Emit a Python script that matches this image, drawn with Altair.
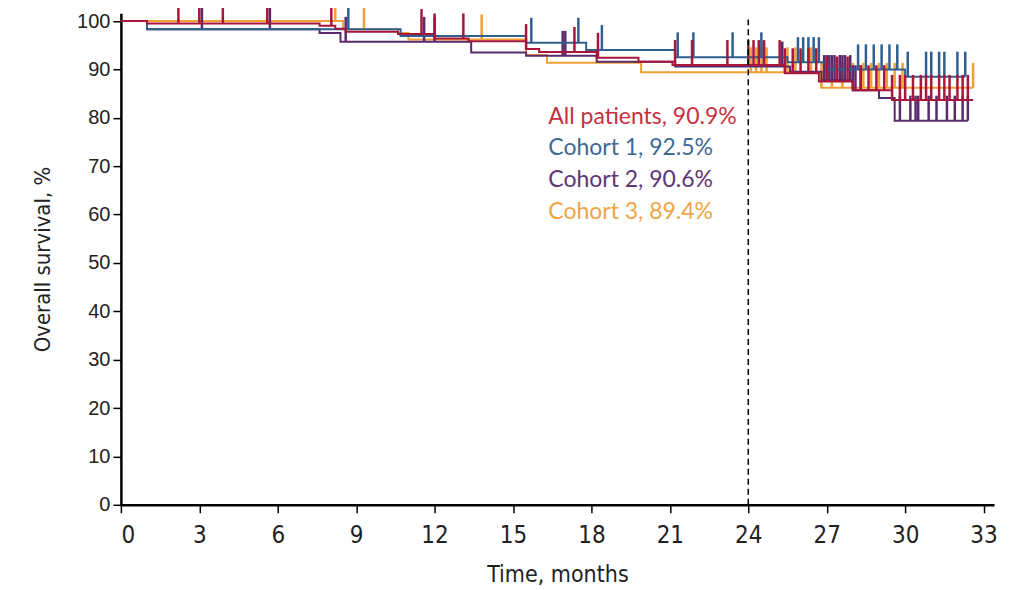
import altair as alt
import pandas as pd

series_names = ["All patients", "Cohort 1", "Cohort 2", "Cohort 3"]
line_colors = ["#a8163c", "#2f5f8f", "#5a2a6c", "#f0a035"]
label_colors = ["#c8303e", "#3d6995", "#5e3577", "#f0a445"]
label_texts = ["All patients, 90.9%", "Cohort 1, 92.5%", "Cohort 2, 90.6%", "Cohort 3, 89.4%"]

# Kaplan-Meier step points (time in months, survival %)
all_t = [0, 1.0, 7.6, 8.2, 8.6, 10.6, 12.0, 13.3, 15.5, 16.0, 18.2, 19.8, 21.1, 25.4, 26.7, 28.0, 29.5]
all_s = [100, 99.5, 99.0, 98.4, 97.8, 97.3, 96.4, 95.8, 94.2, 93.6, 92.4, 91.6, 90.9, 89.2, 87.5, 85.7, 83.7]
all_end = 32.6
all_cens = [2.2, 3.0, 3.9, 5.6, 8.05, 11.5, 12.0, 13.1, 15.5, 17.35, 18.25, 21.2, 21.85, 23.2,
            24.0, 24.2, 24.4, 24.6, 25.2, 25.4, 25.7, 26.0, 26.3, 26.6, 27.0, 27.4, 27.8, 28.3,
            28.6, 28.9, 29.2, 29.5, 29.8, 30.0, 30.3, 30.6, 30.8, 31.0, 31.3, 31.5, 31.7, 32.0,
            32.2, 32.4]

c1_t = [0, 1.0, 10.7, 15.5, 17.8, 21.2, 25.5, 27.0, 30.0]
c1_s = [100, 98.3, 96.9, 95.5, 94.0, 92.5, 91.5, 90.0, 88.5]
c1_end = 32.3
c1_cens = [8.7, 15.7, 17.5, 18.4, 21.3, 21.9, 23.4, 24.5, 25.9, 26.1, 26.3, 26.5, 26.7, 28.2,
           28.5, 28.8, 29.1, 29.4, 29.7, 30.1, 30.8, 31.0, 31.3, 31.5, 32.0, 32.3]

c2_t = [0, 1.0, 7.6, 8.4, 13.4, 15.5, 18.2, 21.2, 25.6, 26.8, 28.0, 29.0, 29.6]
c2_s = [100, 98.3, 97.5, 95.7, 93.5, 92.8, 91.6, 90.6, 89.5, 87.8, 85.7, 84.1, 79.4]
c2_end = 32.4
c2_cens = [3.1, 5.7, 8.6, 11.6, 12.0, 16.9, 17.0, 24.6, 25.3, 26.9, 27.0, 27.1, 27.2, 27.3,
           27.5, 27.6, 27.7, 27.9, 28.0, 28.1, 28.3, 29.8, 30.2, 30.4, 30.5, 30.9, 31.2, 31.6,
           31.9, 32.2, 32.4]

c3_t = [0, 8.5, 10.6, 11.0, 15.5, 16.3, 19.9, 26.8]
c3_s = [100, 98.3, 97.5, 96.2, 93.0, 91.4, 89.4, 86.2]
c3_end = 32.6
c3_cens = [8.2, 9.3, 13.8, 24.1, 24.3, 24.5, 24.7, 25.5, 25.8, 26.4, 26.8, 27.2, 27.6, 28.0,
           28.4, 28.7, 29.0, 29.3, 29.6, 29.9, 32.6]

x_ticks = [0, 3, 6, 9, 12, 15, 18, 21, 24, 27, 30, 33]
y_ticks = [0, 10, 20, 30, 40, 50, 60, 70, 80, 90, 100]

curves = [(all_t, all_s, all_end, all_cens), (c1_t, c1_s, c1_end, c1_cens),
          (c2_t, c2_s, c2_end, c2_cens), (c3_t, c3_s, c3_end, c3_cens)]

NARROW = "Liberation Sans Narrow, DejaVu Sans Condensed, Roboto, sans-serif"


def surv_at(ts, ss, t):
    v = ss[0]
    for ti, si in zip(ts, ss):
        if ti <= t:
            v = si
    return v


xs = alt.Scale(domain=[0, 33.4], nice=False)
ys = alt.Scale(domain=[0, 101.6], nice=False)

x_axis = alt.Axis(values=x_ticks, title="Time, months", grid=False,
                  domainWidth=2.5, domainColor="black", tickColor="black",
                  tickWidth=1.5, tickSize=8, labelFont=NARROW,
                  labelFontSize=24, labelColor="#222", labelPadding=11,
                  titleFont=NARROW, titleFontSize=23,
                  titleFontWeight="normal", titleColor="#222", titlePadding=16)
y_axis = alt.Axis(values=y_ticks, title="Overall survival, %", grid=False,
                  domainWidth=2.5, domainColor="black", tickColor="black",
                  tickWidth=1.5, tickSize=8, labelFont="Liberation Sans",
                  labelFontSize=20, labelColor="#222", labelPadding=3,
                  titleFont=NARROW, titleFontSize=22,
                  titleFontWeight="normal", titleColor="#222", titlePadding=22)

X = alt.X("t:Q", scale=xs, axis=x_axis)
Y = alt.Y("s:Q", scale=ys, axis=y_axis)

layers = []
# draw order: Cohort 3, Cohort 2, Cohort 1, All patients on top
for idx in [3, 2, 1, 0]:
    ts, ss, end, cens = curves[idx]
    ldf = pd.DataFrame({"t": ts + [end], "s": ss + [ss[-1]], "o": list(range(len(ts) + 1))})
    cdf = pd.DataFrame({"t": cens, "s": [surv_at(ts, ss, c) for c in cens]})
    layers.append(alt.Chart(ldf).mark_line(interpolate="step-after", strokeWidth=2,
                                           color=line_colors[idx]).encode(
        x=X, y=Y, order="o:Q"))
    layers.append(alt.Chart(cdf).mark_tick(orient="vertical", size=25, thickness=2.5,
                                           yOffset=-12.5, opacity=1,
                                           color=line_colors[idx]).encode(x=X, y=Y))

vline = alt.Chart(pd.DataFrame({"t": [24]})).mark_rule(
    color="black", strokeDash=[6, 4], strokeWidth=1.5).encode(
    x=X, y=alt.datum(0), y2=alt.datum(100.3))

label_y = [80.2, 73.8, 67.1, 60.5]
texts = []
for txt, col, yy in zip(label_texts, label_colors, label_y):
    texts.append(alt.Chart(pd.DataFrame({"a": [0]})).mark_text(
        align="left", baseline="middle", font="Lato", fontSize=23, color=col).encode(
        x=alt.datum(16.35), y=alt.datum(yy), text=alt.value(txt)))

chart = alt.layer(*layers, vline, *texts).properties(
    width=874, height=492,
    autosize=alt.AutoSizeParams(type="none"),
    padding={"left": 113, "top": 5, "right": 10, "bottom": 85},
).configure_view(stroke=None)

chart.save("out.html", embed_options={"renderer": "svg", "actions": False})
